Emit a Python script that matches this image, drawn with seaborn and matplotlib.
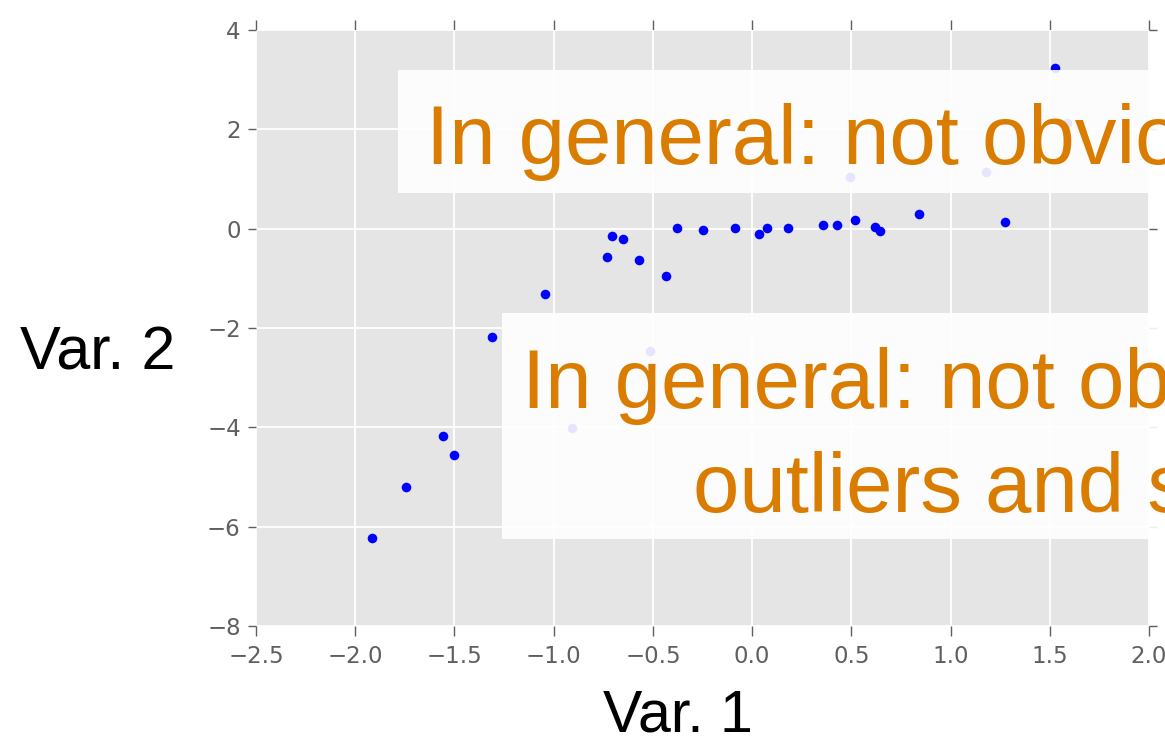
import numpy as np
import pandas as pd
import matplotlib
matplotlib.use('Agg')
import matplotlib.pyplot as plt
import seaborn as sns
from matplotlib.patches import Rectangle

# data
var1 = [-1.915, -1.744, -1.557, -1.502, -1.310, -1.043, -0.907, -0.730, -0.705, -0.650,
        -0.569, -0.514, -0.433, -0.377, -0.246, -0.085, 0.036, 0.076, 0.182, 0.359,
        0.429, 0.495, 0.520, 0.621, 0.646, 0.843, 1.180, 1.276, 1.528, 1.589]
var2 = [-6.23, -5.20, -4.17, -4.56, -2.18, -1.32, -4.01, -0.57, -0.15, -0.21,
        -0.63, -2.46, -0.95, 0.01, -0.03, 0.01, -0.11, 0.01, 0.01, 0.07,
        0.07, 1.04, 0.17, 0.03, -0.05, 0.30, 1.14, 0.13, 3.23, 2.13]
x_ticks = [-2.5, -2.0, -1.5, -1.0, -0.5, 0.0, 0.5, 1.0, 1.5, 2.0]
y_ticks = [-8, -6, -4, -2, 0, 2, 4]

df = pd.DataFrame({'Var. 1': var1, 'Var. 2': var2})

sns.set_style('darkgrid', {'axes.facecolor': '#E5E5E5', 'grid.color': 'white'})
plt.rcParams['font.family'] = ['DejaVu Sans']

W, H = 1165, 738
fig = plt.figure(figsize=(W / 100, H / 100), dpi=100)
ax = fig.add_axes([256 / W, 1 - 626 / H, (1149 - 256) / W, (626 - 30) / H])

sns.scatterplot(data=df, x='Var. 1', y='Var. 2', color='blue', s=48, linewidth=0, ax=ax, zorder=3)

ax.set_xlim(-2.5, 2.0)
ax.set_ylim(-8, 4)
ax.set_xticks(x_ticks)
ax.set_yticks(y_ticks)
ax.grid(True, color='white', linewidth=1.3)
for s in ax.spines.values():
    s.set_visible(False)
ax.set_xlabel('')
ax.set_ylabel('')
ax.tick_params(axis='both', which='major', direction='out', colors='#5f5f5f',
               labelsize=16.5, width=1, top=True, right=True, bottom=True, left=True)
ax.tick_params(axis='x', length=7.5, pad=6)
ax.tick_params(axis='y', length=6, pad=5)

# big slide labels
big = dict(family=['Liberation Sans', 'DejaVu Sans'])
fig.text(20 / W, 1 - 369 / H, 'Var. 2', fontsize=44, color='black', ha='left', va='baseline', **big)
fig.text(603 / W, 1 - 731 / H, 'Var. 1', fontsize=42.5, color='black', ha='left', va='baseline', **big)

# semi-transparent text boxes
orange = '#D97C00'
fig.patches.append(Rectangle((398 / W, 1 - 193 / H), (1200 - 398) / W, (193 - 70) / H,
                             transform=fig.transFigure, facecolor='white', alpha=0.9,
                             edgecolor='none', zorder=5))
fig.patches.append(Rectangle((502 / W, 1 - 539 / H), (1200 - 502) / W, (539 - 313) / H,
                             transform=fig.transFigure, facecolor='white', alpha=0.9,
                             edgecolor='none', zorder=5))
fig.text(426 / W, 1 - 164 / H, 'In general: not obvious', fontsize=60, color=orange,
         ha='left', va='baseline', zorder=6, **big)
fig.text(522 / W, 1 - 408 / H, 'In general: not obvious', fontsize=60, color=orange,
         ha='left', va='baseline', zorder=6, **big)
fig.text(693 / W, 1 - 512 / H, 'outliers and structure', fontsize=60, color=orange,
         ha='left', va='baseline', zorder=6, **big)

fig.savefig('out.png', dpi=100)
